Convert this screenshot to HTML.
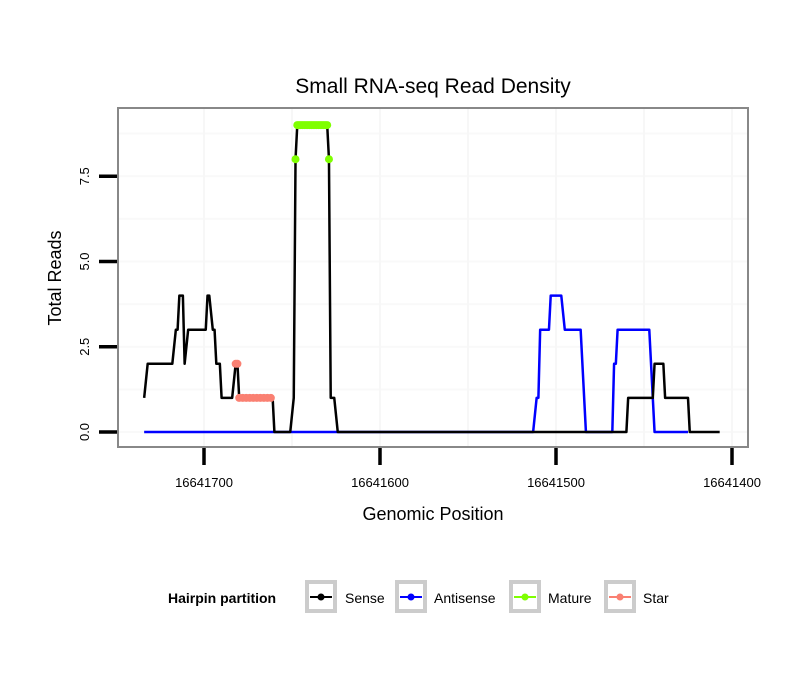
<!DOCTYPE html>
<html><head><meta charset="utf-8"><style>
body{margin:0;background:#fff;font-family:"Liberation Sans",sans-serif;}
svg text{font-family:"Liberation Sans",sans-serif;}
</style></head><body>
<svg id="chart" width="810" height="690" viewBox="0 0 810 690">
<rect width="810" height="690" fill="#fff"/>
<text x="433" y="93" font-size="21" text-anchor="middle">Small RNA-seq Read Density</text>
<g id="grid"></g>
<g id="series"></g>
<rect x="118" y="108" width="630" height="339" fill="none" stroke="#888" stroke-width="2"/>
<g id="axes"></g>
<text x="433" y="520" font-size="18" text-anchor="middle">Genomic Position</text>
<text transform="translate(61,278) rotate(-90)" font-size="18" text-anchor="middle">Total Reads</text>
<g>
<text x="168" y="603" font-size="14" font-weight="bold">Hairpin partition</text>
<g><rect x="307" y="582" width="28" height="29" fill="#fff" stroke="#ccc" stroke-width="4"/><line x1="310" y1="597" x2="332" y2="597" stroke="#000" stroke-width="2"/><circle cx="321" cy="597" r="3.5" fill="#000"/><text x="345" y="603" font-size="14">Sense</text></g>
<g><rect x="397" y="582" width="28" height="29" fill="#fff" stroke="#ccc" stroke-width="4"/><line x1="400" y1="597" x2="422" y2="597" stroke="#00f" stroke-width="2"/><circle cx="411" cy="597" r="3.5" fill="#00f"/><text x="434" y="603" font-size="14">Antisense</text></g>
<g><rect x="511" y="582" width="28" height="29" fill="#fff" stroke="#ccc" stroke-width="4"/><line x1="514" y1="597" x2="536" y2="597" stroke="#7fff00" stroke-width="2"/><circle cx="525" cy="597" r="3.5" fill="#7fff00"/><text x="548" y="603" font-size="14">Mature</text></g>
<g><rect x="606" y="582" width="28" height="29" fill="#fff" stroke="#ccc" stroke-width="4"/><line x1="609" y1="597" x2="631" y2="597" stroke="#fa8072" stroke-width="2"/><circle cx="620" cy="597" r="3.5" fill="#fa8072"/><text x="643" y="603" font-size="14">Star</text></g>
</g>
</svg>
<script>
const xTicks=[16641700,16641600,16641500,16641400];
const yTicks=[0,2.5,5,7.5];
const senseX=[16641734,16641732,16641718,16641716,16641715,16641714,16641712,16641711,16641709,16641699,16641698,16641697,16641695,16641694,16641693,16641691,16641690,16641684,16641682,16641681,16641680,16641661,16641660,16641651,16641649,16641648,16641647,16641630,16641629,16641628,16641626,16641624,16641460,16641459,16641445,16641444,16641439,16641438,16641425,16641424,16641407];
const senseY=[1,2,2,3,3,4,4,2,3,3,4,4,3,3,2,2,1,1,2,2,1,1,0,0,1,8,9,9,8,1,1,0,0,1,1,2,2,1,1,0,0];
const antiX=[16641734,16641513,16641511,16641510,16641509,16641504,16641503,16641497,16641495,16641486,16641483,16641468,16641467,16641466,16641465,16641447,16641444,16641425];
const antiY=[0,0,1,1,3,3,4,4,3,3,0,0,2,2,3,3,0,0];
const matureX=[16641648,16641647,16641646,16641645,16641644,16641643,16641642,16641641,16641640,16641639,16641638,16641637,16641636,16641635,16641634,16641633,16641632,16641631,16641630,16641629];
const matureY=[8,9,9,9,9,9,9,9,9,9,9,9,9,9,9,9,9,9,9,8];
const starX=[16641682,16641681,16641680,16641678,16641676,16641674,16641672,16641670,16641668,16641666,16641664,16641662];
const starY=[2,2,1,1,1,1,1,1,1,1,1,1];
const sx=g=>204+(16641700-g)*1.76;
const sy=v=>432-v*34.1;
const NS='http://www.w3.org/2000/svg';
function mk(t,a,p){const e=document.createElementNS(NS,t);for(const k in a)e.setAttribute(k,a[k]);p.appendChild(e);return e;}
const grid=document.getElementById('grid'),ser=document.getElementById('series'),ax=document.getElementById('axes');
[1.25,3.75,6.25,8.75].forEach(v=>{const l=mk('line',{x1:118,x2:748,y1:sy(v),y2:sy(v),stroke:'#f9f9f9','stroke-width':2},grid);

});
yTicks.forEach(v=>{const l=mk('line',{x1:118,x2:748,y1:sy(v),y2:sy(v),stroke:'#f9f9f9','stroke-width':2},grid);


const t=mk('line',{x1:99,x2:117,y1:sy(v),y2:sy(v),stroke:'#000','stroke-width':3.5},ax);


const tx=mk('text',{transform:`translate(89,${sy(v)}) rotate(-90)`,'font-size':13,'text-anchor':'middle'},ax);tx.textContent=v.toFixed(1);

});
xTicks.forEach((g,i)=>{const l=mk('line',{x1:sx(g),x2:sx(g),y1:108,y2:447,stroke:'#f7f7f7','stroke-width':2},grid);


if(i<xTicks.length-1){const m=mk('line',{x1:sx(g-50),x2:sx(g-50),y1:108,y2:447,stroke:'#f7f7f7','stroke-width':2},grid);

}
const t=mk('line',{x1:sx(g),x2:sx(g),y1:448,y2:465,stroke:'#000','stroke-width':3.5},ax);


const tx=mk('text',{x:sx(g),y:487,'font-size':13,'text-anchor':'middle'},ax);tx.textContent=g;

});
function line(xs,ys,col,name){const p=mk('polyline',{points:xs.map((g,i)=>sx(g)+','+sy(ys[i])).join(' '),fill:'none',stroke:col,'stroke-width':2.5,'stroke-linejoin':'round'},ser);

}
function pts(xs,ys,col,name){xs.forEach((g,i)=>{const c=mk('circle',{cx:sx(g),cy:sy(ys[i]),r:4,fill:col},ser);

});}
line(antiX,antiY,'#00f','antisense-line');
line(senseX,senseY,'#000','sense-line');
pts(matureX,matureY,'#7fff00','mature-point');
pts(starX,starY,'#fa8072','star-point');
</script>
</body></html>
